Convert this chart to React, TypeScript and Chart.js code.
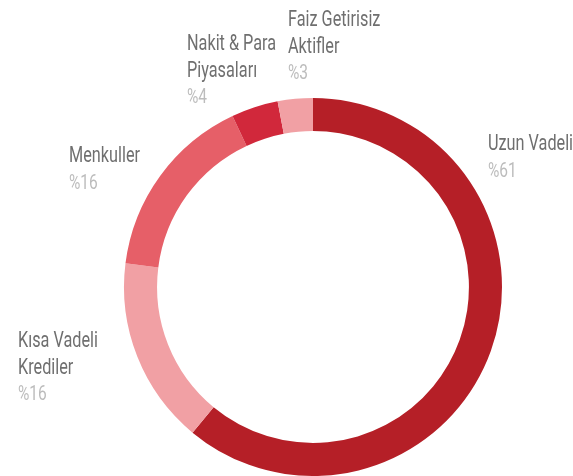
import React, { useEffect, useRef } from "react";
import { Chart, registerables } from "chart.js";

Chart.register(...registerables);

const categories = ["Uzun Vadeli", "Kısa Vadeli Krediler", "Menkuller", "Nakit & Para Piyasaları", "Faiz Getirisiz Aktifler"];
const categoryLines = [["Uzun Vadeli"], ["Kısa Vadeli", "Krediler"], ["Menkuller"], ["Nakit & Para", "Piyasaları"], ["Faiz Getirisiz", "Aktifler"]];
const values = [61, 16, 16, 4, 3];
const percentLabels = ["%61", "%16", "%16", "%4", "%3"];

const colors = ["#B51F27", "#F1A0A4", "#E65F68", "#D1283B", "#F1A0A4"];
// first-baseline anchor of each label, relative to the doughnut center
const labelOffsets = [
  { dx: 175, dy: -137 },
  { dx: -295, dy: 60 },
  { dx: -244, dy: -125 },
  { dx: -126, dy: -237 },
  { dx: -25, dy: -261 },
];

const FONT = 'Roboto, "Noto Sans", sans-serif';
const REF_WORD = "Menkuller";
const REF_WIDTH = 71;

const labelPlugin = {
  id: "outerLabels",
  afterDraw(chart: any) {
    const meta = chart.getDatasetMeta(0);
    const arc = meta.data[0];
    if (!arc) return;
    const cx = arc.x;
    const cy = arc.y;
    const ctx = chart.ctx;
    ctx.save();
    ctx.textAlign = "left";
    ctx.textBaseline = "alphabetic";
    ctx.font = `22px ${FONT}`;
    const sx = REF_WIDTH / ctx.measureText(REF_WORD).width;
    categoryLines.forEach((lines, i) => {
      const x = cx + labelOffsets[i].dx;
      let y = cy + labelOffsets[i].dy;
      ctx.font = `22px ${FONT}`;
      ctx.fillStyle = "#6f6f6f";
      lines.forEach((ln) => {
        ctx.save();
        ctx.translate(x, y);
        ctx.scale(sx, 1);
        ctx.fillText(ln, 0, 0);
        ctx.restore();
        y += 26.5;
      });
      ctx.font = `21px ${FONT}`;
      ctx.fillStyle = "#bcbcbc";
      ctx.save();
      ctx.translate(x, y);
      ctx.scale(sx, 1);
      ctx.fillText(percentLabels[i], 0, 0);
      ctx.restore();
    });
    ctx.restore();
  },
};

export default function App() {
  const ref = useRef<HTMLCanvasElement>(null);
  useEffect(() => {
    document.body.style.margin = "0";
    const chart = new Chart(ref.current!, {
      type: "doughnut",
      data: {
        labels: categories,
        datasets: [
          {
            data: values,
            backgroundColor: colors,
            borderWidth: 0,
          },
        ],
      },
      options: {
        responsive: false,
        animation: false,
        cutout: "82.5%",
        layout: { padding: { left: 124, right: 71, top: 98, bottom: 0 } },
        plugins: {
          legend: { display: false },
          tooltip: { enabled: false },
        },
      },
      plugins: [labelPlugin],
    });
    return () => chart.destroy();
  }, []);
  return (
    <div style={{ position: "absolute", left: 0, top: 0, width: 573, height: 476, background: "#fff" }}>
      <canvas ref={ref} width={573} height={476} />
    </div>
  );
}
